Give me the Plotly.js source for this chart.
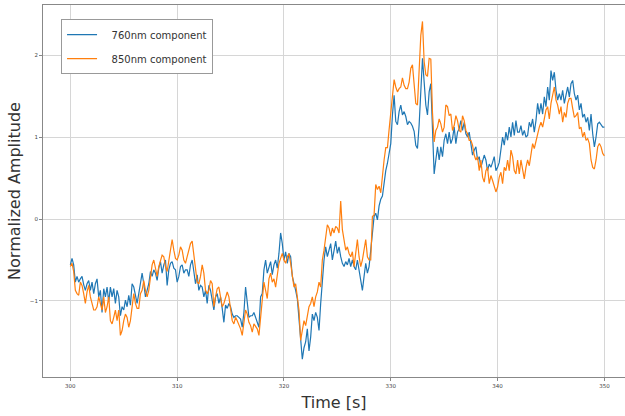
<!DOCTYPE html>
<html>
<head>
<meta charset="utf-8">
<script src="https://cdn.plot.ly/plotly-3.0.1.min.js"></script>
<style>
  html, body { margin: 0; padding: 0; background: #fff; overflow: hidden; }
  #chart { width: 625px; height: 416px; }
</style>
</head>
<body>
<div id="chart"></div>
<script>
// Sampling grid
const T_START = 300;
const T_END = 350;

// 760nm component (normalized amplitude), uniformly sampled 300..350 s
const comp760 = [
  -0.56,-0.48,-0.56,-0.77,-0.70,-0.77,-0.73,-0.70,-0.80,-0.87,
  -0.79,-0.75,-0.87,-0.77,-0.91,-0.79,-0.73,-0.95,-0.87,-1.14,
  -0.85,-0.95,-0.83,-1.01,-0.83,-0.95,-0.85,-1.03,-0.87,-0.95,
  -1.18,-1.07,-1.11,-0.99,-1.07,-0.93,-1.05,-0.79,-0.83,-0.95,
  -1.03,-0.91,-0.75,-0.66,-0.79,-0.95,-0.87,-0.79,-0.64,-0.70,
  -0.62,-0.66,-0.75,-0.60,-0.52,-0.66,-0.56,-0.50,-0.81,-0.62,
  -0.54,-0.52,-0.60,-0.62,-0.77,-0.70,-0.58,-0.56,-0.66,-0.62,
  -0.62,-0.70,-0.56,-0.50,-0.64,-0.79,-0.68,-0.87,-0.81,-0.83,
  -0.95,-0.87,-1.03,-0.81,-0.87,-0.97,-1.11,-0.95,-0.91,-1.03,
  -0.95,-1.09,-1.26,-1.05,-1.09,-1.03,-1.07,-1.16,-1.20,-1.18,
  -1.18,-1.20,-1.22,
  -1.32,-1.14,-0.83,-0.99,-1.20,-1.18,-1.18,-1.14,-1.20,-1.24,
  -1.32,-0.95,-0.91,-0.62,-0.50,-0.66,-0.58,-0.52,-0.68,-0.56,
  -0.50,-0.60,-0.42,-0.17,-0.30,-0.50,-0.40,-0.54,-0.42,-0.46,
  -0.70,-0.81,-0.87,-0.97,-1.20,-1.52,-1.71,-1.57,-1.50,-1.34,
  -1.61,-1.44,-1.16,-1.24,-1.14,-1.20,-1.36,-1.03,-0.75,-0.50,
  -0.34,-0.46,-0.38,-0.30,-0.50,-0.38,-0.27,-0.42,-0.34,-0.46,
  -0.54,-0.58,-0.52,-0.56,-0.48,-0.58,-0.50,-0.58,-0.62,-0.50,
  -0.64,-0.77,-0.87,-0.70,-0.54,-0.66,-0.58,-0.38,-0.13,0.03,
  0.07,-0.01,0.16,0.24,0.28,0.48,0.59,0.68,0.82,0.92,
  1.27,1.51,1.19,1.15,1.31,1.39,1.27,1.31,1.25,1.15,
  1.19,1.17,1.13,1.07,0.90,0.86,1.15,1.67,1.96,1.67,
  1.39,1.27,1.55,
  1.65,1.10,0.55,0.72,0.88,0.72,0.88,0.76,0.96,1.04,
  0.92,1.06,0.92,0.98,1.12,0.92,1.06,1.10,1.20,1.08,
  1.18,1.04,1.00,1.06,0.90,0.78,0.84,0.88,0.72,0.76,
  0.63,0.72,0.78,0.72,0.59,0.67,0.63,0.69,0.76,0.59,
  0.63,0.69,0.84,1.00,0.90,1.06,0.96,1.12,1.00,1.18,
  1.02,1.20,1.06,
  1.06,1.14,1.02,1.08,1.00,1.02,1.18,1.12,1.22,1.06,
  1.20,1.41,1.28,1.41,1.28,1.49,1.37,1.61,1.45,1.81,
  1.69,1.79,1.57,1.45,1.53,1.45,1.57,1.41,1.51,1.61,
  1.49,1.65,1.69,1.53,1.45,1.51,1.33,1.41,1.24,1.28,
  1.18,1.24,1.08,1.28,1.04,0.88,1.00,1.16,1.18,1.14,
  1.12,1.12
];

// 850nm component (normalized amplitude), same sampling
const comp850 = [
  -0.58,-0.54,-0.64,-0.87,-0.91,-0.93,-0.77,-0.81,-0.91,-1.03,
  -0.89,-0.81,-0.95,-1.05,-1.11,-1.11,-1.07,-0.95,-1.05,-1.11,
  -0.95,-1.14,-1.07,-0.95,-1.24,-1.28,-1.20,-1.11,-1.24,-1.11,
  -1.42,-1.36,-1.24,-1.16,-1.20,-1.32,-1.24,-1.07,-0.91,-1.03,
  -1.09,-1.09,-0.91,-0.87,-0.75,-0.87,-0.95,-0.87,-0.73,-0.56,
  -0.50,-0.62,-0.70,-0.58,-0.50,-0.44,-0.46,-0.58,-0.64,-0.52,
  -0.38,-0.25,-0.38,-0.48,-0.50,-0.44,-0.34,-0.38,-0.50,-0.54,
  -0.46,-0.38,-0.30,-0.27,-0.46,-0.62,-0.77,-0.79,-0.70,-0.56,
  -0.66,-0.87,-0.91,-0.87,-0.75,-0.79,-1.07,-0.95,-0.85,-0.83,
  -0.95,-1.07,-1.03,-0.95,-0.89,-0.95,-1.11,-1.24,-1.28,-1.20,
  -1.24,-1.28,-1.34,
  -1.42,-1.28,-1.11,-1.16,-1.26,-1.30,-1.38,-1.28,-1.32,-1.34,
  -1.42,-1.20,-0.99,-0.77,-0.87,-0.97,-0.73,-0.66,-0.77,-0.73,
  -0.83,-0.66,-0.54,-0.48,-0.42,-0.50,-0.54,-0.46,-0.42,-0.54,
  -0.70,-0.83,-0.79,-0.95,-1.11,-1.48,-1.38,-1.24,-1.30,-1.20,
  -1.07,-1.03,-0.95,-1.07,-0.95,-0.89,-0.77,-0.83,-0.50,-0.38,
  -0.25,-0.07,-0.11,-0.21,-0.11,-0.17,-0.09,-0.11,-0.17,0.22,
  -0.13,-0.25,-0.38,-0.34,-0.42,-0.46,-0.40,-0.58,-0.38,-0.25,
  -0.46,-0.58,-0.50,-0.34,-0.25,-0.46,-0.50,-0.50,0.03,0.05,
  0.42,0.36,0.40,0.32,0.55,0.72,0.87,0.87,1.09,1.30,
  1.55,1.70,1.61,1.55,1.59,1.61,1.72,1.63,1.59,1.59,
  1.67,1.84,1.88,1.59,1.41,1.39,1.80,2.24,2.41,1.92,
  1.76,1.74,1.96,
  1.95,1.30,0.94,1.08,1.12,1.22,1.16,1.06,1.12,1.39,
  1.37,1.26,1.28,1.08,1.14,1.26,1.20,1.08,1.06,1.26,
  1.20,1.08,1.04,0.96,0.96,0.90,0.78,0.72,0.76,0.59,
  0.72,0.51,0.45,0.59,0.63,0.43,0.53,0.47,0.41,0.33,
  0.39,0.51,0.57,0.43,0.63,0.59,0.72,0.59,0.84,0.76,
  0.59,0.55,0.72,
  0.55,0.72,0.61,0.49,0.63,0.72,0.65,0.82,0.92,0.86,
  0.96,1.02,1.12,1.18,1.12,1.22,1.33,1.37,1.22,1.41,
  1.53,1.61,1.45,1.39,1.28,1.37,1.18,1.30,1.24,1.41,
  1.47,1.47,1.35,1.24,1.26,1.30,1.10,1.12,1.00,1.06,
  0.96,0.98,0.92,0.72,0.63,0.61,0.72,0.88,0.92,0.88,
  0.80,0.77
];

const seriesNames = ["760nm component", "850nm component"];
const xTicks = [300, 310, 320, 330, 340, 350];
const yTicks = [-1, 0, 1, 2];

const n = comp760.length;
const time = comp760.map((_, i) => T_START + i * (T_END - T_START) / (n - 1));

const font = "DejaVu Sans, Liberation Sans, sans-serif";
const NB = "\u00a0";

const traces = [
  { x: time, y: comp760, type: "scatter", mode: "lines", name: NB + NB + NB + seriesNames[0],
    legendgroup: "a", line: { color: "#1f77b4", width: 1.2 } },
  { x: time, y: comp850, type: "scatter", mode: "lines", name: NB + NB + NB + seriesNames[1],
    legendgroup: "b", line: { color: "#ff7f0e", width: 1.2 } }
];

const layout = {
  width: 625, height: 416,
  margin: { l: 43, r: 0, t: 5, b: 39, pad: 0 },
  paper_bgcolor: "#ffffff", plot_bgcolor: "#ffffff",
  font: { family: font, color: "#333333" },
  showlegend: true,
  legend: {
    x: 0.031, y: 0.962, xanchor: "left", yanchor: "top",
    bgcolor: "#ffffff", bordercolor: "#999999", borderwidth: 1,
    font: { family: font, size: 10, color: "#333333" },
    tracegroupgap: 5
  },
  xaxis: {
    range: [297.44, 351.93], tickvals: xTicks, ticktext: xTicks.map(String),
    showgrid: true, gridcolor: "#d6d6d6", gridwidth: 1,
    zeroline: false, showline: true, mirror: true, linecolor: "#888888", linewidth: 1,
    ticks: "outside", ticklen: 3, tickcolor: "#888888",
    tickfont: { family: font, size: 5.5, color: "#444444" },
    title: { text: "Time [s]", font: { family: font, size: 16, color: "#333333" }, standoff: 9 }
  },
  yaxis: {
    range: [-1.927, 2.610], tickvals: yTicks, ticktext: yTicks.map(v => v < 0 ? "\u2212" + Math.abs(v) : String(v)),
    showgrid: true, gridcolor: "#d6d6d6", gridwidth: 1,
    zeroline: false, showline: true, mirror: false, linecolor: "#888888", linewidth: 1,
    ticks: "outside", ticklen: 3, tickcolor: "#888888",
    tickfont: { family: font, size: 5.5, color: "#444444" },
    title: { text: NB + NB + NB + NB + "Normalized Amplitude", font: { family: font, size: 16, color: "#333333" }, standoff: 5 }
  }
};

Plotly.newPlot("chart", traces, layout, { displayModeBar: false, staticPlot: true });
</script>
</body>
</html>
